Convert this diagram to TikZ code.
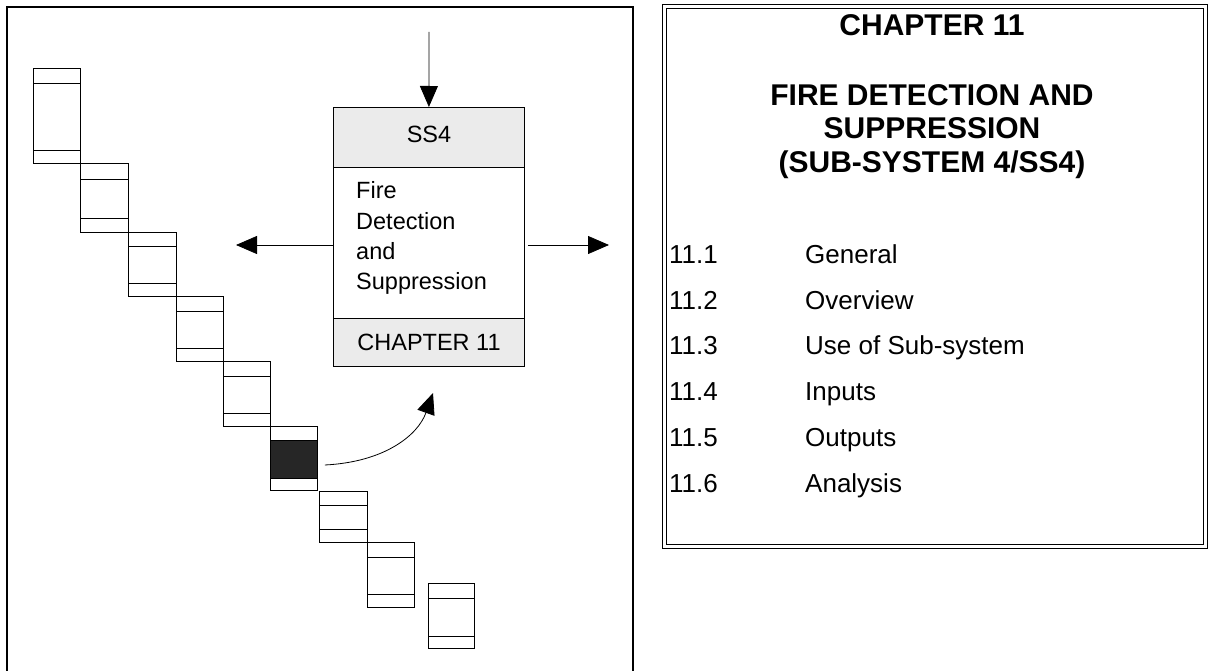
\documentclass[tikz,border=0pt]{standalone}
\usepackage{fontspec}
\setmainfont{Liberation Sans}
\usetikzlibrary{arrows.meta}
\begin{document}
\begin{tikzpicture}[x=1pt,y=-1pt,
  stairbox/.style={draw, line width=0.8pt, inner sep=0pt, anchor=north west},
  thinline/.style={line width=0.8pt},
  band/.style={fill=gray!16},
  bigarrow/.style={line width=0.8pt, -{Triangle[length=21pt,width=18pt]}},
  frameline/.style={line width=1.6pt},
  boxtext/.style={inner sep=0pt, font=\fontsize{23.5}{28}\selectfont},
  headtext/.style={inner sep=0pt, anchor=base, font=\fontsize{30}{34}\bfseries\selectfont},
  itemtext/.style={inner sep=0pt, anchor=base west, font=\fontsize{26}{30}\selectfont}
]
\useasboundingbox (0,0) rectangle (1209,671);
% left frame
\draw[frameline] (7,671) -- (7,7) -- (633,7) -- (633,671);

% staircase boxes: index/x0/x1/y0/y1/a/b
\foreach \i/\xa/\xb/\ya/\yb/\la/\lb in {
  1/33/80/68/163/83/150,
  2/80/128/163/232/179/218,
  3/128/176/232/296/246/283,
  4/176/223/296/361/311/348,
  5/223/270/361/426/376/413,
  6/270/317/426/490/440/478,
  7/319/367/491/542/505/529,
  8/367/414/542/607/557/594,
  9/428/474/583/648/598/636}{
  \pgfmathsetmacro{\w}{\xb-\xa}
  \pgfmathsetmacro{\h}{\yb-\ya}
  \ifnum\i=6
    \fill[black!85] (\xa,\la) rectangle (\xb,\lb);
  \fi
  \node[stairbox, minimum width=\w pt, minimum height=\h pt] (b\i) at (\xa,\ya) {};
  \draw[thinline] (b\i.west |- 0,\la) -- (b\i.east |- 0,\la);
  \draw[thinline] (b\i.west |- 0,\lb) -- (b\i.east |- 0,\lb);
}

% central box
\fill[band] (333,107) rectangle (524,167);
\fill[band] (333,318) rectangle (524,366);
\node[draw, thinline, inner sep=0pt, anchor=north west, minimum width=191pt, minimum height=259pt] (main) at (333,107) {};
\draw[thinline] (main.west |- 0,167) -- (main.east |- 0,167);
\draw[thinline] (main.west |- 0,318) -- (main.east |- 0,318);
\node[boxtext, anchor=base] (ss) at (429,143) {SS4};
\node[boxtext, anchor=base west] (t1) at (356,199) {Fire};
\node[boxtext, anchor=base west] (t2) at (356,229) {Detection};
\node[boxtext, anchor=base west] (t3) at (356,259) {and};
\node[boxtext, anchor=base west] (t4) at (356,289) {Suppression};
\node[boxtext, anchor=base] (ch) at (429,350) {CHAPTER 11};

% arrows
\coordinate (intop) at (429,32);
\coordinate (outl) at (236,245);
\coordinate (outr) at (609,245);
\coordinate (curvend) at (433,393);
\draw[bigarrow] (intop) -- (main.north);
\draw[bigarrow] (main.west |- outl) -- (outl);
\draw[bigarrow] ([xshift=3pt]main.east |- outr) -- (outr);
\draw[bigarrow] ([xshift=7pt]b6.east |- 0,465) .. controls (385,462) and (418,435) .. (curvend);

% right box
\draw[thinline] (662,4) rectangle (1207,548);
\node[draw, thinline, inner sep=0pt, anchor=north west, minimum width=537pt, minimum height=536pt] (rbox) at (666,8) {};
\node[headtext] (h1) at (932,36) {CHAPTER 11};
\node[headtext] (h2) at (932,106) {FIRE DETECTION AND};
\node[headtext] (h3) at (932,139) {SUPPRESSION};
\node[headtext] (h4) at (932,172) {(SUB-SYSTEM 4/SS4)};

\foreach \n/\txt/\yy in {1/General/263, 2/Overview/309, 3/Use of Sub-system/354, 4/Inputs/400, 5/Outputs/446, 6/Analysis/492}{
  \node[itemtext] (n\n) at (669,\yy) {11.\n};
  \node[itemtext] (i\n) at (805,\yy) {\txt};
}
\end{tikzpicture}
\end{document}
